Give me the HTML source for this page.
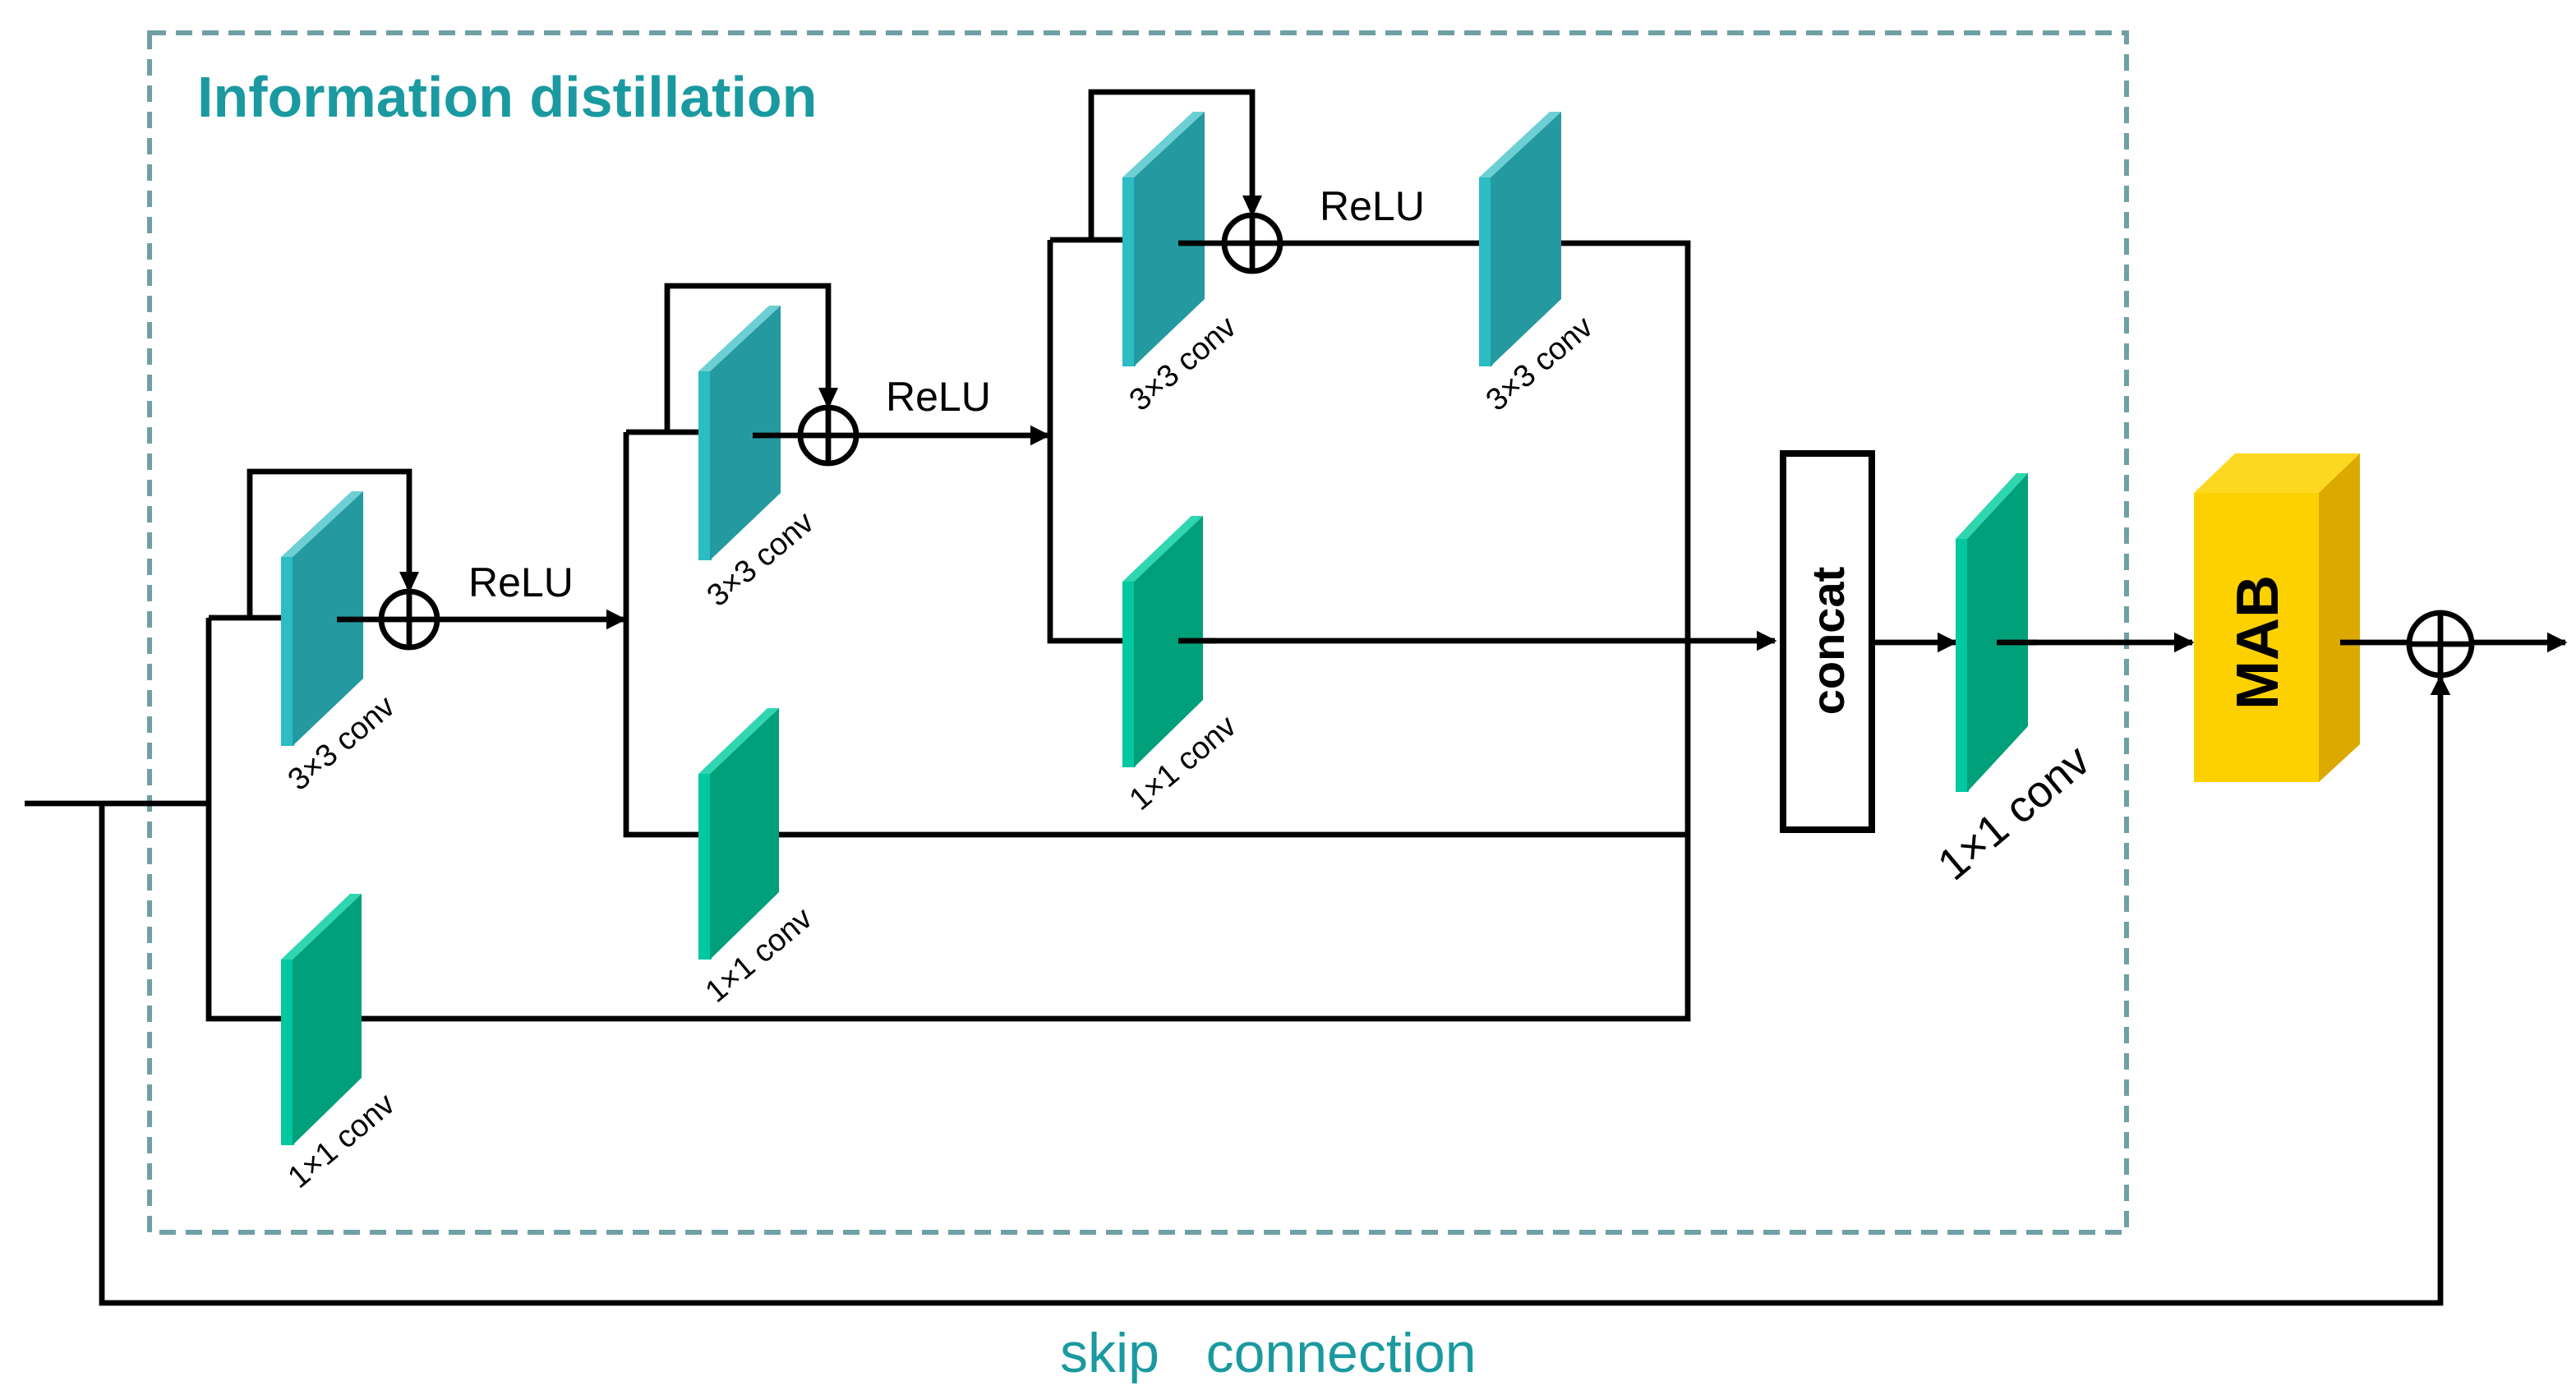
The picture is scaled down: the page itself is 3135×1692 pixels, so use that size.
<!DOCTYPE html>
<html><head><meta charset="utf-8"><style>html,body{margin:0;padding:0;background:#fff}svg{display:block}</style></head>
<body>
<svg width="3135" height="1692" viewBox="0 0 1567.5 846" xmlns="http://www.w3.org/2000/svg" font-family="Liberation Sans, sans-serif">
<defs>
<marker id="a" viewBox="0 0 10 10" refX="9" refY="5" markerWidth="3.6" markerHeight="3.6" orient="auto"><path d="M0,0L10,5L0,10z" fill="#000"/></marker>
<g id="s33"><rect x="0" y="0" width="8" height="115" fill="#2bbcc4"/><polygon points="7,0 50,-40 50,74 7,115" fill="#2599a0"/><polygon points="0,0 43,-40 50,-40 7,0" fill="#6ccfd4"/></g>
<g id="s11"><rect x="0" y="0" width="8" height="113" fill="#00c8a0"/><polygon points="7,0 49,-40 49,72 7,113" fill="#00a07a"/><polygon points="0,0 42,-40 49,-40 7,0" fill="#2fd6b0"/></g>
</defs>
<rect x="91" y="20" width="1203" height="730" fill="none" stroke="#6fa0a4" stroke-width="3" stroke-dasharray="10,6"/>
<text x="120" y="71" font-size="35" font-weight="bold" fill="#1a9aa0">Information distillation</text>
<text x="645" y="835" font-size="34" fill="#1a9aa0" xml:space="preserve">skip   connection</text>
<g fill="none" stroke="#000" stroke-width="3.4">
<path d="M15,489H127M127,376V620H1027V148H938M127,376H171M152,376V287H249V358" />
<path d="M381,263V508H1027M381,263H425M406,263V174H504V246"/>
<path d="M639,146V390H683M639,146H683M664,146V56H762V129"/>
<path d="M266,377H380" marker-end="url(#a)"/>
<path d="M521,265H638" marker-end="url(#a)"/>
<path d="M779,148H900"/>
<path d="M717,390H1080" marker-end="url(#a)"/>
<path d="M1139,391H1190" marker-end="url(#a)"/>
<path d="M1215,391H1334" marker-end="url(#a)"/>
<path d="M1503,391H1561" marker-end="url(#a)"/>
<path d="M62,489V793H1485V412" marker-end="url(#a)"/>
</g>
<g fill="#000"><polygon points="243,348 255,348 249,361"/><polygon points="498,236 510,236 504,249"/><polygon points="756,119 768,119 762,132"/></g>
<use href="#s33" x="171" y="339"/>
<use href="#s11" x="171" y="584"/>
<use href="#s33" x="425" y="226"/>
<use href="#s11" x="425" y="471"/>
<use href="#s33" x="683" y="108"/>
<use href="#s33" x="900" y="108"/>
<use href="#s11" x="683" y="354"/>
<g transform="translate(1190,328)"><rect x="0" y="0" width="8" height="154" fill="#00c8a0"/><polygon points="7,0 44,-40 44,114 7,154" fill="#00a07a"/><polygon points="0,0 37,-40 44,-40 7,0" fill="#2fd6b0"/></g>
<g stroke="#000" stroke-width="3.4" fill="none">
<path d="M205,377H232"/><path d="M458,265H487"/><path d="M717,148H745"/><path d="M717,390H740"/><path d="M1215,391H1240"/>
<circle cx="249" cy="377" r="17" fill="#fff"/><path d="M232,377H266M249,360V394"/>
<circle cx="504" cy="265" r="17" fill="#fff"/><path d="M487,265H521M504,248V282"/>
<circle cx="762" cy="148" r="17" fill="#fff"/><path d="M745,148H779M762,131V165"/>
<circle cx="1485" cy="392" r="19" fill="#fff"/><path d="M1466,392H1504M1485,373V411"/>
</g>
<rect x="1085" y="276" width="54" height="229" fill="#fff" stroke="#000" stroke-width="4"/>
<text transform="translate(1122,390) rotate(-90)" text-anchor="middle" font-size="28" font-weight="bold">concat</text>
<rect x="1335" y="300" width="76" height="176" fill="#fdd000"/>
<polygon points="1335,300 1360,276 1436,276 1411,300" fill="#fdd820"/>
<polygon points="1411,300 1436,276 1436,453 1411,476" fill="#dba900"/>
<path d="M1424,391H1467" stroke="#000" stroke-width="3.4"/>
<text transform="translate(1386,391) rotate(-90)" text-anchor="middle" font-size="36" font-weight="bold">MAB</text>
<g font-size="25"><text x="285" y="363">ReLU</text><text x="539" y="250">ReLU</text><text x="803" y="134">ReLU</text></g>
<g font-size="19">
<text transform="translate(182,482) rotate(-40)">3×3 conv</text>
<text transform="translate(437,370) rotate(-40)">3×3 conv</text>
<text transform="translate(694,251) rotate(-40)">3×3 conv</text>
<text transform="translate(911,251) rotate(-40)">3×3 conv</text>
<text transform="translate(182,724) rotate(-40)">1×1 conv</text>
<text transform="translate(436,611) rotate(-40)">1×1 conv</text>
<text transform="translate(694,494) rotate(-40)">1×1 conv</text>
</g>
<text transform="translate(1189,537) rotate(-40)" font-size="27">1×1 conv</text>
</svg>
</body></html>
